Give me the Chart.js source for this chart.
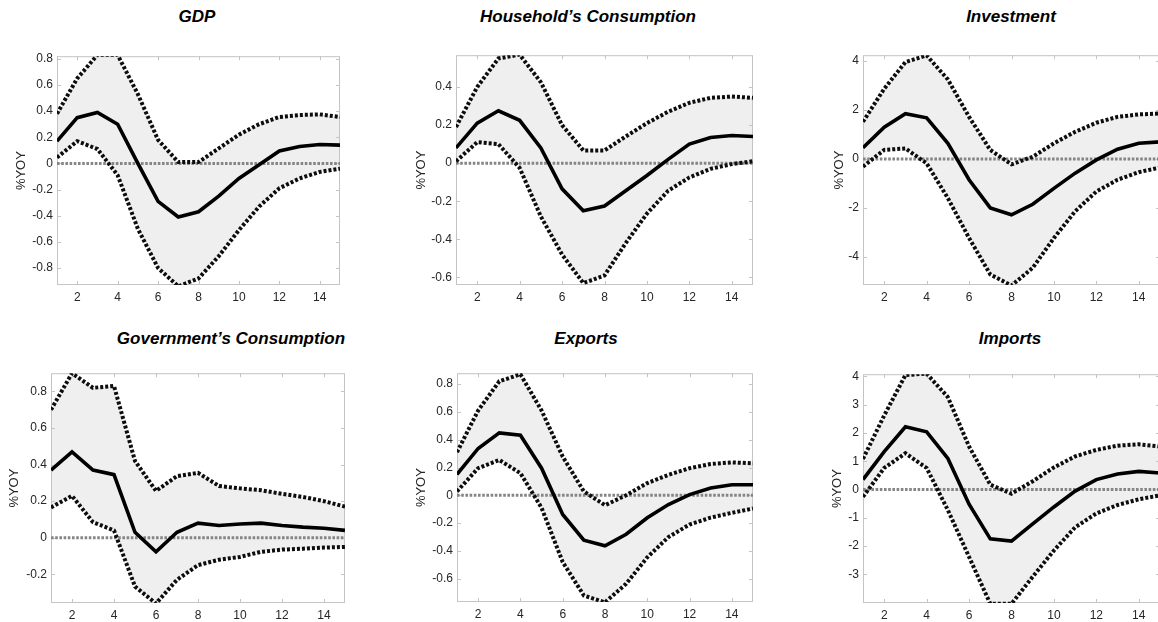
<!DOCTYPE html>
<html>
<head>
<meta charset="utf-8">
<script src="https://cdn.jsdelivr.net/npm/chart.js@4.4.1/dist/chart.umd.min.js"></script>
<style>
  html, body { margin: 0; padding: 0; background: #fff; overflow: hidden; }
  body { width: 1158px; height: 622px; position: relative; }
  .title {
    position: absolute;
    font: italic bold 17px "Liberation Sans", Arial, sans-serif;
    color: #000;
    white-space: nowrap;
    line-height: 1;
    transform: translate(-50%, -50%);
  }
  canvas { position: absolute; }
</style>
</head>
<body>
<script>
// horizon (quarters) and x tick labels
const periods = [1, 2, 3, 4, 5, 6, 7, 8, 9, 10, 11, 12, 13, 14, 15];
const xTickValues = [2, 4, 6, 8, 10, 12, 14];

// GDP
const gdpMedian = [0.17, 0.35, 0.39, 0.30, 0.00, -0.29, -0.41, -0.37, -0.25, -0.115, -0.01, 0.095, 0.13, 0.145, 0.14];
const gdpUpper  = [0.38, 0.65, 0.83, 0.83, 0.53, 0.18, 0.01, 0.01, 0.115, 0.22, 0.30, 0.355, 0.37, 0.375, 0.355];
const gdpLower  = [0.045, 0.17, 0.11, -0.09, -0.50, -0.80, -0.94, -0.88, -0.71, -0.51, -0.33, -0.19, -0.115, -0.065, -0.04];
const gdpTicks  = [-0.8, -0.6, -0.4, -0.2, 0, 0.2, 0.4, 0.6, 0.8];

// Household's consumption
const hhMedian = [0.08, 0.21, 0.275, 0.225, 0.08, -0.135, -0.25, -0.225, -0.145, -0.065, 0.02, 0.10, 0.135, 0.145, 0.14];
const hhUpper  = [0.19, 0.40, 0.55, 0.57, 0.425, 0.20, 0.067, 0.067, 0.14, 0.21, 0.27, 0.317, 0.343, 0.35, 0.343];
const hhLower  = [0.01, 0.11, 0.10, -0.025, -0.28, -0.48, -0.63, -0.59, -0.42, -0.265, -0.145, -0.075, -0.03, -0.005, 0.01];
const hhTicks  = [-0.6, -0.4, -0.2, 0, 0.2, 0.4];

// Investment
const invMedian = [0.46, 1.3, 1.85, 1.68, 0.64, -0.85, -2.0, -2.28, -1.85, -1.2, -0.58, -0.04, 0.4, 0.64, 0.7];
const invUpper  = [1.52, 2.87, 3.96, 4.23, 3.25, 1.72, 0.37, -0.22, 0.09, 0.64, 1.11, 1.48, 1.72, 1.82, 1.86];
const invLower  = [-0.31, 0.37, 0.43, -0.18, -1.6, -3.23, -4.72, -5.17, -4.45, -3.23, -2.14, -1.33, -0.85, -0.54, -0.35];
const invTicks  = [-4, -2, 0, 2, 4];

// Government's consumption
const govMedian = [0.37, 0.47, 0.37, 0.345, 0.03, -0.077, 0.03, 0.08, 0.067, 0.075, 0.08, 0.067, 0.058, 0.052, 0.04];
const govUpper  = [0.70, 0.90, 0.82, 0.83, 0.42, 0.256, 0.337, 0.355, 0.283, 0.27, 0.26, 0.24, 0.223, 0.20, 0.17];
const govLower  = [0.166, 0.229, 0.085, 0.04, -0.267, -0.36, -0.23, -0.15, -0.12, -0.105, -0.077, -0.065, -0.06, -0.054, -0.05];
const govTicks  = [-0.2, 0, 0.2, 0.4, 0.6, 0.8];

// Exports
const expMedian = [0.15, 0.337, 0.449, 0.432, 0.195, -0.138, -0.323, -0.363, -0.28, -0.161, -0.066, 0.005, 0.052, 0.076, 0.076];
const expUpper  = [0.31, 0.61, 0.82, 0.87, 0.61, 0.278, 0.028, -0.071, 0.0, 0.088, 0.147, 0.195, 0.225, 0.237, 0.23];
const expLower  = [0.028, 0.195, 0.254, 0.159, -0.09, -0.48, -0.72, -0.77, -0.636, -0.446, -0.30, -0.21, -0.16, -0.126, -0.095];
const expTicks  = [-0.6, -0.4, -0.2, 0, 0.2, 0.4, 0.6, 0.8];

// Imports
const impMedian = [0.35, 1.34, 2.22, 2.04, 1.1, -0.52, -1.75, -1.83, -1.22, -0.62, -0.06, 0.35, 0.55, 0.64, 0.58];
const impUpper  = [1.08, 2.62, 4.05, 4.1, 3.27, 1.52, 0.17, -0.15, 0.29, 0.78, 1.17, 1.40, 1.55, 1.60, 1.52];
const impLower  = [-0.26, 0.76, 1.28, 0.76, -0.73, -2.39, -4.05, -4.05, -3.09, -2.16, -1.34, -0.85, -0.55, -0.35, -0.21];
const impTicks  = [-3, -2, -1, 0, 1, 2, 3, 4];

// layout: plot box [left, top, right, bottom], y-axis label x, title centre
const panels = [
  { title: "GDP", median: gdpMedian, upper: gdpUpper, lower: gdpLower, ticks: gdpTicks,
    yMin: -0.93, yMax: 0.82, box: [57, 54, 340, 285], labelX: 22, tx: 197, ty: 16 },
  { title: "Household\u2019s Consumption", median: hhMedian, upper: hhUpper, lower: hhLower, ticks: hhTicks,
    yMin: -0.64, yMax: 0.567, box: [456, 53, 753, 285], labelX: 422, tx: 588, ty: 16 },
  { title: "Investment", median: invMedian, upper: invUpper, lower: invLower, ticks: invTicks,
    yMin: -5.15, yMax: 4.24, box: [863, 53, 1160, 285], labelX: 840, tx: 1011, ty: 16 },
  { title: "Government\u2019s Consumption", median: govMedian, upper: govUpper, lower: govLower, ticks: govTicks,
    yMin: -0.357, yMax: 0.9, box: [51, 371, 345, 603], labelX: 15, tx: 231, ty: 338 },
  { title: "Exports", median: expMedian, upper: expUpper, lower: expLower, ticks: expTicks,
    yMin: -0.767, yMax: 0.878, box: [457, 371, 753, 602], labelX: 422, tx: 586, ty: 338 },
  { title: "Imports", median: impMedian, upper: impUpper, lower: impLower, ticks: impTicks,
    yMin: -4.02, yMax: 4.08, box: [863, 372, 1160, 603], labelX: 838, tx: 1010, ty: 338 }
];

const FONT = "'Liberation Sans', Arial, sans-serif";
const PAD_TOP = 9, PAD_RIGHT = 4, X_AXIS_H = 24;

// frame, inward tick marks and the zero line, drawn under the curves
const framePlugin = {
  id: "frame",
  beforeDatasetsDraw(chart) {
    const { ctx, chartArea: a, scales } = chart;
    ctx.save();
    ctx.strokeStyle = "#c4c4c4";
    ctx.lineWidth = 1;
    ctx.strokeRect(a.left + 0.5, a.top + 0.5, a.right - a.left - 1, a.bottom - a.top - 1);
    ctx.beginPath();
    scales.x.ticks.forEach(t => {
      const x = Math.round(scales.x.getPixelForValue(t.value)) + 0.5;
      ctx.moveTo(x, a.top); ctx.lineTo(x, a.top + 4);
      ctx.moveTo(x, a.bottom); ctx.lineTo(x, a.bottom - 4);
    });
    scales.y.ticks.forEach(t => {
      const y = Math.round(scales.y.getPixelForValue(t.value)) + 0.5;
      ctx.moveTo(a.left, y); ctx.lineTo(a.left + 4, y);
      ctx.moveTo(a.right, y); ctx.lineTo(a.right - 4, y);
    });
    ctx.stroke();

    const y0 = scales.y.getPixelForValue(0);
    ctx.strokeStyle = "#858585";
    ctx.lineWidth = 3;
    ctx.setLineDash([2.6, 1.6]);
    ctx.beginPath();
    ctx.moveTo(a.left, y0);
    ctx.lineTo(a.right, y0);
    ctx.stroke();
    ctx.restore();
  }
};

panels.forEach(p => {
  const [bl, bt, br, bb] = p.box;
  const yAxisW = bl - p.labelX + 8;
  const left = bl - yAxisW;
  const top = bt - PAD_TOP;
  const width = br + PAD_RIGHT - left;
  const height = bb + X_AXIS_H - top;

  const canvas = document.createElement("canvas");
  canvas.width = width;
  canvas.height = height;
  canvas.style.left = left + "px";
  canvas.style.top = top + "px";
  canvas.style.width = width + "px";
  canvas.style.height = height + "px";
  document.body.appendChild(canvas);

  const title = document.createElement("div");
  title.className = "title";
  title.textContent = p.title;
  title.style.left = p.tx + "px";
  title.style.top = p.ty + "px";
  document.body.appendChild(title);

  new Chart(canvas.getContext("2d"), {
    type: "line",
    data: {
      labels: periods,
      datasets: [
        {
          label: "median",
          data: p.median,
          borderColor: "#000",
          borderWidth: 3.6,
          pointRadius: 0,
          fill: false
        },
        {
          label: "upper",
          data: p.upper,
          borderColor: "#0d0d0d",
          borderWidth: 4,
          borderDash: [3, 2],
          borderCapStyle: "butt",
          pointRadius: 0,
          fill: "+1",
          backgroundColor: "#efefef"
        },
        {
          label: "lower",
          data: p.lower,
          borderColor: "#0d0d0d",
          borderWidth: 4,
          borderDash: [3, 2],
          borderCapStyle: "butt",
          pointRadius: 0,
          fill: false
        }
      ]
    },
    options: {
      responsive: false,
      animation: false,
      devicePixelRatio: 1,
      layout: { padding: { top: PAD_TOP, right: PAD_RIGHT, left: 0, bottom: 0 } },
      plugins: {
        legend: { display: false },
        tooltip: { enabled: false },
        filler: { drawTime: "beforeDatasetsDraw" }
      },
      scales: {
        x: {
          type: "linear",
          min: 1,
          max: 15,
          grid: { display: false, drawTicks: false },
          border: { display: false },
          afterBuildTicks: s => { s.ticks = xTickValues.map(v => ({ value: v })); },
          afterFit: s => { s.height = X_AXIS_H; },
          ticks: {
            padding: 5,
            maxRotation: 0,
            color: "#262626",
            font: { family: FONT, size: 12 },
            callback: v => String(v)
          }
        },
        y: {
          min: p.yMin,
          max: p.yMax,
          grid: { display: false, drawTicks: false },
          border: { display: false },
          afterBuildTicks: s => { s.ticks = p.ticks.map(v => ({ value: v })); },
          afterFit: s => { s.width = yAxisW; },
          title: {
            display: true,
            text: "%YOY",
            color: "#262626",
            padding: 0,
            font: { family: FONT, size: 13 }
          },
          ticks: {
            padding: 4,
            color: "#262626",
            font: { family: FONT, size: 12 },
            callback: v => String(Math.round(v * 10) / 10)
          }
        }
      }
    },
    plugins: [framePlugin]
  });
});
</script>
</body>
</html>
